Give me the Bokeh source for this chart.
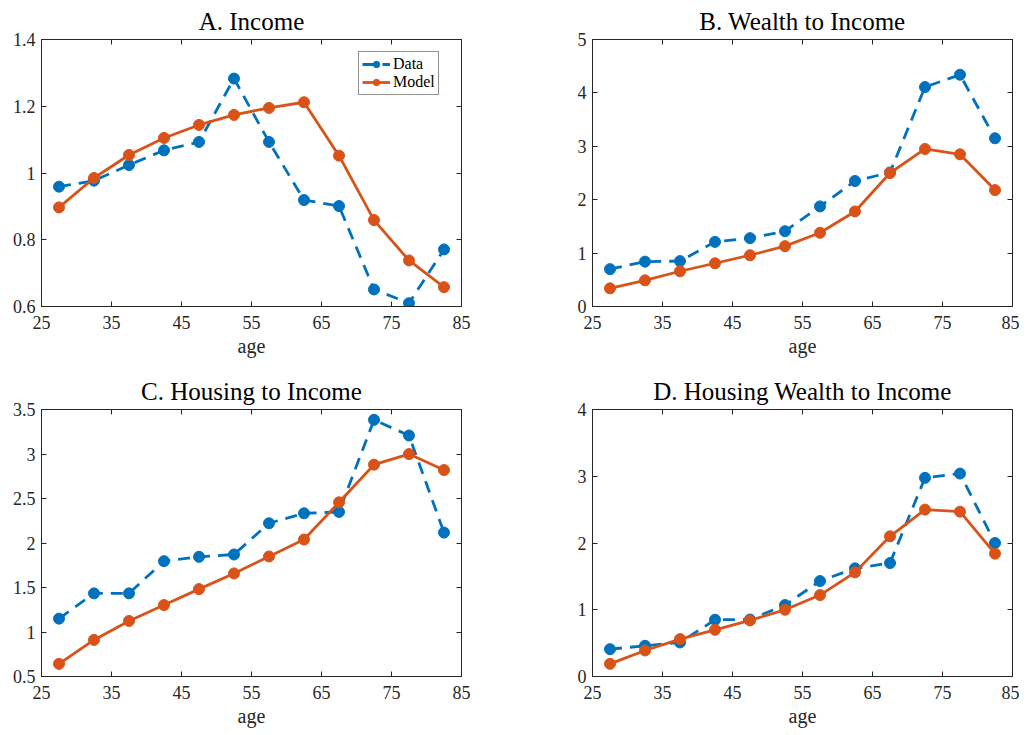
from bokeh.plotting import figure
from bokeh.layouts import gridplot
from bokeh.models import LinearAxis, FixedTicker, Range1d, Legend, LegendItem, CustomJSTickFormatter
from bokeh.embed import file_html
from bokeh.resources import INLINE

ages = [27.5, 32.5, 37.5, 42.5, 47.5, 52.5, 57.5, 62.5, 67.5, 72.5, 77.5, 82.5]
x_ticks = [25, 35, 45, 55, 65, 75, 85]
x_tick_labels = ["25", "35", "45", "55", "65", "75", "85"]

income_data = [0.959, 0.977, 1.024, 1.068, 1.093, 1.283, 1.093, 0.919, 0.901, 0.651, 0.610, 0.771]
income_model = [0.897, 0.985, 1.054, 1.105, 1.144, 1.174, 1.195, 1.212, 1.052, 0.859, 0.738, 0.658]
income_ticks = [0.6, 0.8, 1.0, 1.2, 1.4]
income_tick_labels = ["0.6", "0.8", "1", "1.2", "1.4"]

wealth_data = [0.70, 0.84, 0.85, 1.21, 1.28, 1.41, 1.875, 2.35, 2.51, 4.11, 4.34, 3.15]
wealth_model = [0.34, 0.49, 0.66, 0.81, 0.96, 1.13, 1.38, 1.78, 2.50, 2.95, 2.85, 2.18]
wealth_ticks = [0, 1, 2, 3, 4, 5]
wealth_tick_labels = ["0", "1", "2", "3", "4", "5"]

housing_data = [1.15, 1.434, 1.434, 1.796, 1.845, 1.871, 2.222, 2.334, 2.349, 3.384, 3.208, 2.117]
housing_model = [0.642, 0.911, 1.124, 1.303, 1.482, 1.658, 1.849, 2.039, 2.457, 2.880, 2.999, 2.82]
housing_ticks = [0.5, 1.0, 1.5, 2.0, 2.5, 3.0, 3.5]
housing_tick_labels = ["0.5", "1", "1.5", "2", "2.5", "3", "3.5"]

hw_data = [0.41, 0.46, 0.51, 0.85, 0.854, 1.07, 1.43, 1.62, 1.70, 2.976, 3.04, 2.00]
hw_model = [0.19, 0.39, 0.56, 0.70, 0.84, 1.00, 1.22, 1.56, 2.10, 2.50, 2.47, 1.84]
hw_ticks = [0, 1, 2, 3, 4]
hw_tick_labels = ["0", "1", "2", "3", "4"]

titles = ["A. Income", "B. Wealth to Income", "C. Housing to Income", "D. Housing Wealth to Income"]
series_names = ["Data", "Model"]

BLUE = "#0072BD"
ORANGE = "#D95319"
AXC = "#262626"
FONT = "Liberation Serif"


def make_panel(title, data, model, yticks, ylabels, width, height, left, right, top, bottom, legend=False):
    p = figure(width=width, height=height, output_backend="svg", toolbar_location=None,
               x_range=Range1d(25, 85), y_range=Range1d(yticks[0], yticks[-1]),
               min_border_left=left, min_border_right=right, min_border_top=top, min_border_bottom=bottom,
               x_axis_label="age")
    p.title.text = title
    p.title.align = "center"
    p.title.text_font = FONT
    p.title.text_font_size = "25px"
    p.title.text_font_style = "normal"
    p.title.text_color = "#000000"
    p.title.standoff = 10
    p.grid.visible = False
    p.outline_line_color = AXC
    p.outline_line_width = 1
    p.background_fill_color = "white"
    p.border_fill_color = "white"

    p.xaxis.ticker = FixedTicker(ticks=x_ticks)
    p.xaxis.major_label_overrides = {t: s for t, s in zip(x_ticks, x_tick_labels)}
    p.yaxis.ticker = FixedTicker(ticks=yticks)
    p.yaxis.major_label_overrides = {t: s for t, s in zip(yticks, ylabels)}
    for ax in p.xaxis + p.yaxis:
        ax.major_tick_in = 5
        ax.major_tick_out = 0
        ax.minor_tick_in = 0
        ax.minor_tick_out = 0
        ax.axis_line_color = AXC
        ax.major_tick_line_color = AXC
        ax.major_label_text_font = FONT
        ax.major_label_text_font_size = "18px"
        ax.major_label_text_color = AXC
        ax.axis_label_text_font = FONT
        ax.axis_label_text_font_size = "20px"
        ax.axis_label_text_font_style = "normal"
        ax.axis_label_text_color = AXC
    p.xaxis.major_label_standoff = 9
    p.xaxis.axis_label_standoff = 3
    p.yaxis.major_label_standoff = 6

    blank = CustomJSTickFormatter(code="return ''")
    rax = LinearAxis(ticker=FixedTicker(ticks=yticks), formatter=blank, major_tick_in=5, major_tick_out=0,
                     minor_tick_in=0, minor_tick_out=0, major_label_standoff=0,
                     axis_line_color=AXC, major_tick_line_color=AXC, major_label_text_font_size="1px")
    tax = LinearAxis(ticker=FixedTicker(ticks=x_ticks), formatter=blank, major_tick_in=5, major_tick_out=0,
                     minor_tick_in=0, minor_tick_out=0, major_label_standoff=0,
                     axis_line_color=AXC, major_tick_line_color=AXC, major_label_text_font_size="1px")
    p.add_layout(rax, "right")
    p.add_layout(tax, "above")

    dl = p.line(ages, data, line_color=BLUE, line_width=2.8, line_dash="12 8")
    ds = p.scatter(ages, data, size=11, fill_color=BLUE, line_color=BLUE)
    ml = p.line(ages, model, line_color=ORANGE, line_width=2.8)
    ms = p.scatter(ages, model, size=11, fill_color=ORANGE, line_color=ORANGE)

    if legend:
        lg = Legend(items=[LegendItem(label=series_names[0], renderers=[dl, ds]),
                           LegendItem(label=series_names[1], renderers=[ml, ms])],
                    location=(317, 211))
        lg.label_text_font = FONT
        lg.label_text_font_size = "16px"
        lg.label_text_color = "#000000"
        lg.glyph_width = 28
        lg.glyph_height = 16
        lg.label_height = 16
        lg.label_standoff = 3
        lg.padding = 3
        lg.spacing = 0
        lg.margin = 0
        lg.border_line_color = AXC
        lg.border_line_width = 1
        lg.background_fill_alpha = 1
        p.add_layout(lg, "center")
    return p


pa = make_panel(titles[0], income_data, income_model, income_ticks, income_tick_labels,
                520, 366, 41, 59, 39, 60, legend=True)
pb = make_panel(titles[1], wealth_data, wealth_model, wealth_ticks, wealth_tick_labels,
                499, 366, 72, 7, 39, 60)
pc = make_panel(titles[2], housing_data, housing_model, housing_ticks, housing_tick_labels,
                520, 366, 41, 59, 43, 56)
pd_ = make_panel(titles[3], hw_data, hw_model, hw_ticks, hw_tick_labels,
                 499, 366, 72, 7, 43, 56)

grid = gridplot([[pa, pb], [pc, pd_]], toolbar_location=None)

open("out.html", "w").write(file_html(grid, INLINE))
